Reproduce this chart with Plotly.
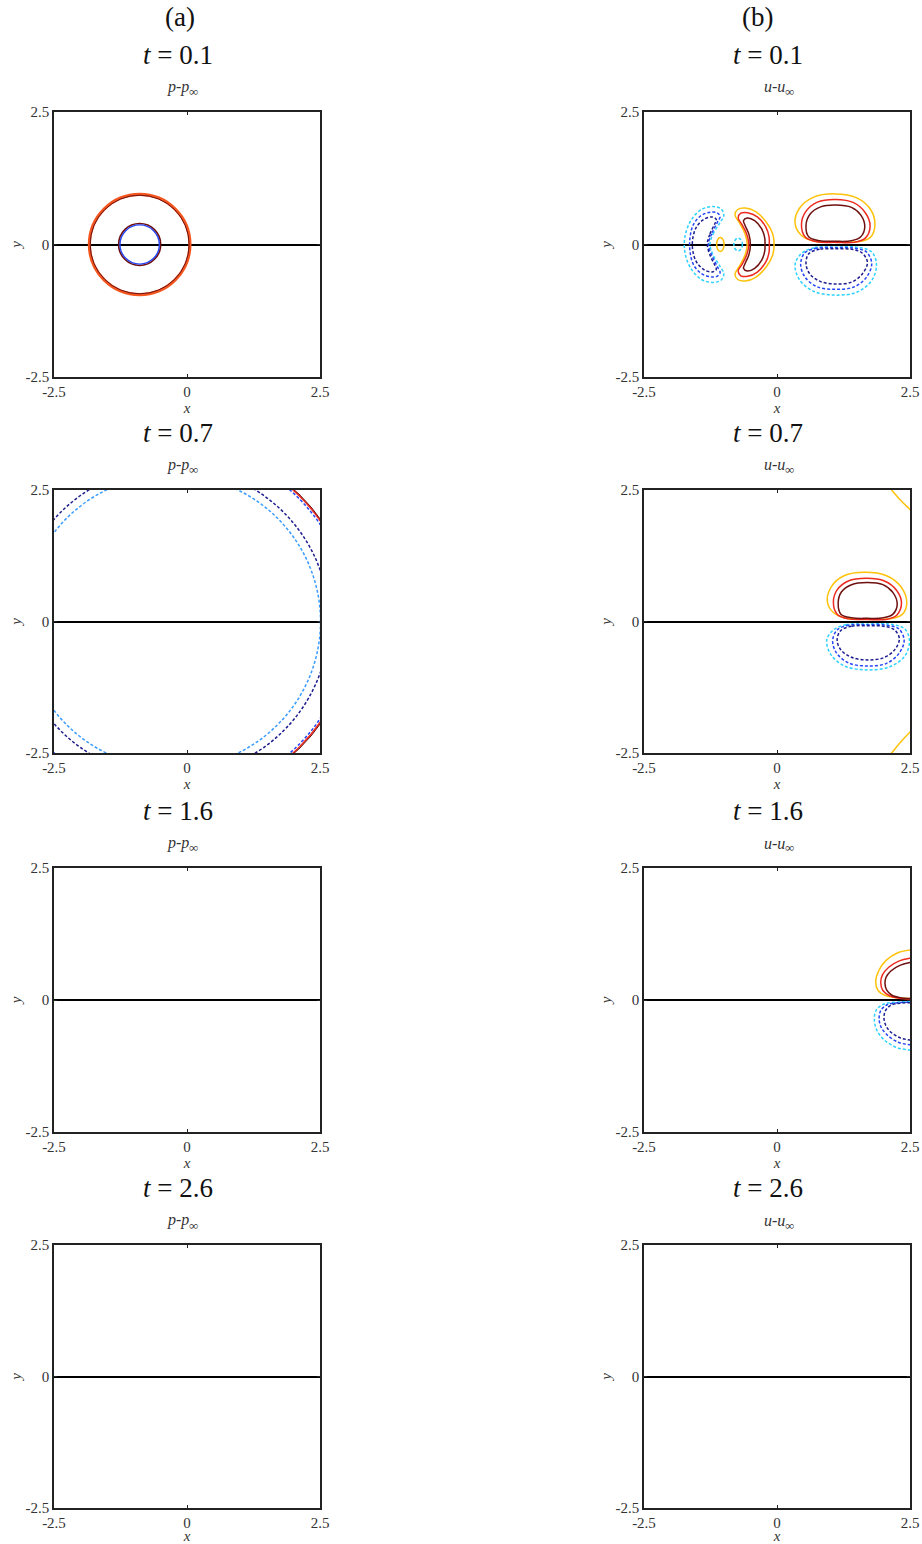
import plotly.graph_objects as go

W, H = 922, 1544

# ---- panel layout (pixels) ----
COL_LEFT = [54, 644]
COL_RIGHT = [320, 910]
ROW_TOP = [112, 490, 868, 1245]
ROW_BOTTOM = [377, 753, 1132, 1508]

times = ["0.1", "0.7", "1.6", "2.6"]
column_tags = ["(a)", "(b)"]
quantities = ["<i>p</i>-<i>p</i>", "<i>u</i>-<i>u</i>"]
tick_vals = [-2.5, 0, 2.5]
tick_text = ["-2.5", "0", "2.5"]

# ---- contour colours ----
C_YEL = "#ffc20a"
C_RED = "#ec2a1f"
C_DRED = "#6e1010"
C_ORG = "#f4561f"
C_CYAN = "#2ed2ff"
C_BLUE = "#2546f5"
C_NAVY = "#1d1d8f"
C_LBLUE = "#3a9cff"

# ---- p - p_inf contours: circular wave fronts (center x, radius) ----
p01_center = -0.89
p01_rings = [  # radius, colour, dashed, width
    (0.945, C_ORG, False, 3.2),
    (0.930, C_DRED, False, 1.0),
    (0.395, C_DRED, False, 1.6),
    (0.370, C_BLUE, False, 1.4),
]
p07_center = -0.28
p07_rings = [
    (2.79, C_LBLUE, True, 1.5),
    (2.95, C_NAVY, True, 1.5),
    (3.34, C_BLUE, True, 1.5),
    (3.38, C_RED, False, 1.6),
    (3.40, C_DRED, False, 1.0),
]

# ---- u - u_inf contours at t = 0.1 ----
u01_lobe_yel_x = [1.10, 0.70, 0.46, 0.34, 0.42, 0.68, 1.09, 1.50, 1.76, 1.84, 1.75, 1.50, 1.10]
u01_lobe_yel_y = [0.05, 0.06, 0.17, 0.40, 0.68, 0.89, 0.955, 0.88, 0.66, 0.36, 0.13, 0.05, 0.05]
u01_lobe_red_x = [1.10, 0.75, 0.53, 0.46, 0.54, 0.76, 1.10, 1.44, 1.66, 1.75, 1.66, 1.45, 1.10]
u01_lobe_red_y = [0.04, 0.05, 0.14, 0.38, 0.62, 0.80, 0.85, 0.79, 0.60, 0.35, 0.12, 0.04, 0.04]
u01_lobe_dred_x = [1.10, 0.80, 0.60, 0.545, 0.62, 0.82, 1.10, 1.40, 1.58, 1.65, 1.57, 1.40, 1.10]
u01_lobe_dred_y = [0.06, 0.07, 0.14, 0.36, 0.57, 0.71, 0.745, 0.70, 0.55, 0.33, 0.14, 0.07, 0.06]
u01_lobe_cyan_x = [1.10, 0.70, 0.45, 0.34, 0.42, 0.68, 1.09, 1.50, 1.78, 1.87, 1.78, 1.50, 1.10]
u01_lobe_cyan_y = [-0.05, -0.06, -0.18, -0.38, -0.66, -0.88, -0.955, -0.90, -0.68, -0.38, -0.14, -0.05, -0.05]
u01_lobe_blue_x = [1.10, 0.75, 0.52, 0.445, 0.53, 0.76, 1.10, 1.45, 1.68, 1.78, 1.68, 1.45, 1.10]
u01_lobe_blue_y = [-0.06, -0.07, -0.16, -0.38, -0.62, -0.80, -0.845, -0.80, -0.62, -0.36, -0.14, -0.07, -0.06]
u01_lobe_navy_x = [1.10, 0.80, 0.60, 0.545, 0.62, 0.82, 1.10, 1.40, 1.60, 1.70, 1.60, 1.40, 1.10]
u01_lobe_navy_y = [-0.08, -0.09, -0.17, -0.36, -0.56, -0.70, -0.745, -0.71, -0.56, -0.34, -0.16, -0.09, -0.08]

u01_lcres_cyan_x = [-1.26, -1.20, -1.08, -1.00, -1.05, -1.20, -1.42, -1.62, -1.73, -1.73, -1.62, -1.42, -1.20, -1.05, -1.00, -1.08, -1.20, -1.26]
u01_lcres_cyan_y = [0.00, 0.20, 0.40, 0.55, 0.67, 0.715, 0.66, 0.45, 0.15, -0.15, -0.45, -0.66, -0.715, -0.67, -0.55, -0.40, -0.20, 0.00]
u01_lcres_blue_x = [-1.29, -1.22, -1.12, -1.07, -1.13, -1.25, -1.42, -1.57, -1.635, -1.635, -1.57, -1.42, -1.25, -1.13, -1.07, -1.12, -1.22, -1.29]
u01_lcres_blue_y = [0.00, 0.22, 0.42, 0.53, 0.60, 0.61, 0.55, 0.38, 0.13, -0.13, -0.38, -0.55, -0.61, -0.60, -0.53, -0.42, -0.22, 0.00]
u01_lcres_navy_x = [-1.31, -1.26, -1.17, -1.14, -1.22, -1.38, -1.52, -1.585, -1.585, -1.52, -1.38, -1.22, -1.14, -1.17, -1.26, -1.31]
u01_lcres_navy_y = [0.00, 0.20, 0.39, 0.47, 0.52, 0.47, 0.32, 0.10, -0.10, -0.32, -0.47, -0.52, -0.47, -0.39, -0.20, 0.00]

u01_mcres_yel_x = [-0.56, -0.60, -0.70, -0.79, -0.74, -0.60, -0.40, -0.20, -0.08, -0.055, -0.08, -0.20, -0.40, -0.60, -0.74, -0.79, -0.70, -0.60, -0.56]
u01_mcres_yel_y = [0.00, 0.20, 0.40, 0.56, 0.66, 0.69, 0.62, 0.42, 0.20, 0.00, -0.20, -0.42, -0.62, -0.69, -0.66, -0.56, -0.40, -0.20, 0.00]
u01_mcres_red_x = [-0.53, -0.57, -0.66, -0.73, -0.68, -0.55, -0.37, -0.21, -0.15, -0.145, -0.15, -0.21, -0.37, -0.55, -0.68, -0.73, -0.66, -0.57, -0.53]
u01_mcres_red_y = [0.00, 0.20, 0.38, 0.50, 0.59, 0.60, 0.52, 0.33, 0.15, 0.00, -0.15, -0.33, -0.52, -0.60, -0.59, -0.50, -0.38, -0.20, 0.00]
u01_mcres_dred_x = [-0.50, -0.53, -0.60, -0.63, -0.56, -0.42, -0.29, -0.23, -0.226, -0.23, -0.29, -0.42, -0.56, -0.63, -0.60, -0.53, -0.50]
u01_mcres_dred_y = [0.00, 0.20, 0.36, 0.45, 0.50, 0.45, 0.30, 0.12, 0.00, -0.12, -0.30, -0.45, -0.50, -0.45, -0.36, -0.20, 0.00]

# small closed contours between the crescents: (center x, half width, half height)
u01_spot_yel = (-1.065, 0.07, 0.13)
u01_spot_cyan = (-0.73, 0.08, 0.12)

# ---- u - u_inf contours at t = 0.7 ----
u07_lobe_yel_x = [1.70, 1.30, 1.06, 0.946, 1.02, 1.26, 1.65, 2.06, 2.33, 2.44, 2.35, 2.10, 1.70]
u07_lobe_yel_y = [0.05, 0.06, 0.17, 0.38, 0.66, 0.87, 0.935, 0.87, 0.66, 0.36, 0.13, 0.05, 0.05]
u07_lobe_red_x = [1.70, 1.34, 1.13, 1.06, 1.13, 1.34, 1.68, 2.02, 2.25, 2.34, 2.25, 2.05, 1.70]
u07_lobe_red_y = [0.04, 0.05, 0.14, 0.37, 0.60, 0.77, 0.82, 0.77, 0.59, 0.35, 0.12, 0.04, 0.04]
u07_lobe_dred_x = [1.70, 1.40, 1.20, 1.15, 1.21, 1.40, 1.70, 1.99, 2.18, 2.26, 2.18, 2.00, 1.70]
u07_lobe_dred_y = [0.06, 0.07, 0.14, 0.35, 0.56, 0.70, 0.74, 0.70, 0.55, 0.33, 0.14, 0.07, 0.06]
u07_lobe_cyan_x = [1.70, 1.30, 1.05, 0.934, 1.02, 1.28, 1.70, 2.12, 2.40, 2.49, 2.40, 2.12, 1.70]
u07_lobe_cyan_y = [-0.05, -0.06, -0.17, -0.36, -0.64, -0.85, -0.92, -0.86, -0.66, -0.37, -0.14, -0.05, -0.05]
u07_lobe_blue_x = [1.70, 1.35, 1.13, 1.046, 1.12, 1.35, 1.70, 2.05, 2.29, 2.39, 2.29, 2.06, 1.70]
u07_lobe_blue_y = [-0.06, -0.07, -0.16, -0.37, -0.60, -0.79, -0.846, -0.80, -0.61, -0.36, -0.14, -0.07, -0.06]
u07_lobe_navy_x = [1.70, 1.40, 1.20, 1.13, 1.20, 1.40, 1.70, 2.00, 2.21, 2.30, 2.21, 2.00, 1.70]
u07_lobe_navy_y = [-0.08, -0.09, -0.17, -0.35, -0.54, -0.68, -0.73, -0.69, -0.54, -0.33, -0.16, -0.09, -0.08]
# arcs of the outer yellow level entering the corners
u07_corner_top_x = [2.10, 2.155, 2.30, 2.50, 2.60]
u07_corner_top_y = [2.56, 2.50, 2.33, 2.13, 2.03]
u07_corner_bot_x = [2.10, 2.155, 2.30, 2.50, 2.60]
u07_corner_bot_y = [-2.56, -2.50, -2.32, -2.10, -2.00]

# ---- u - u_inf contours at t = 1.6 (lobes leaving through x = 2.5) ----
u16_yel_x = [2.70, 2.50, 2.28, 2.05, 1.91, 1.855, 1.90, 2.05, 2.30, 2.50, 2.70]
u16_yel_y = [0.97, 0.947, 0.90, 0.75, 0.55, 0.35, 0.18, 0.08, 0.04, 0.03, 0.03]
u16_red_x = [2.70, 2.50, 2.30, 2.10, 1.98, 1.95, 1.99, 2.12, 2.32, 2.50, 2.70]
u16_red_y = [0.81, 0.79, 0.74, 0.62, 0.47, 0.33, 0.18, 0.08, 0.03, 0.02, 0.02]
u16_dred_x = [2.70, 2.50, 2.32, 2.14, 2.05, 2.03, 2.06, 2.16, 2.34, 2.50, 2.70]
u16_dred_y = [0.73, 0.71, 0.66, 0.55, 0.43, 0.31, 0.19, 0.09, 0.04, 0.03, 0.03]
u16_cyan_x = [2.70, 2.50, 2.25, 2.02, 1.88, 1.83, 1.86, 2.00, 2.28, 2.50, 2.70]
u16_cyan_y = [-0.97, -0.947, -0.90, -0.76, -0.58, -0.38, -0.20, -0.08, -0.04, -0.03, -0.03]
u16_blue_x = [2.70, 2.50, 2.28, 2.08, 1.96, 1.92, 1.95, 2.07, 2.30, 2.50, 2.70]
u16_blue_y = [-0.87, -0.85, -0.80, -0.67, -0.52, -0.36, -0.20, -0.09, -0.05, -0.04, -0.04]
u16_navy_x = [2.70, 2.50, 2.30, 2.13, 2.04, 2.01, 2.04, 2.14, 2.32, 2.50, 2.70]
u16_navy_y = [-0.78, -0.76, -0.71, -0.60, -0.47, -0.33, -0.20, -0.10, -0.06, -0.05, -0.05]

DASH = "3px,2px"


def px_x(px):
    return px / W


def px_y(py):
    return 1 - py / H


fig = go.Figure()
layout = dict(
    width=W, height=H, margin=dict(l=0, r=0, t=0, b=0, autoexpand=False),
    paper_bgcolor="white", plot_bgcolor="white", showlegend=False,
    font=dict(family="Liberation Serif", color="#222"),
)

axis_common = dict(
    range=[-2.5, 2.5], tickmode="array", tickvals=tick_vals, ticktext=tick_text,
    showgrid=False, showline=True, linecolor="#222", linewidth=1.6, mirror="ticks",
    ticks="inside", ticklen=3, tickwidth=1.2, tickcolor="#222",
    tickfont=dict(family="Liberation Serif", size=15, color="#333"),
    fixedrange=True, automargin=False,
)

annotations = []
shapes = []
panels = {}
# right edge of the quantity name (px) for each column
name_right = [190, 786]
k = 0
for r in range(4):
    for c in range(2):
        k += 1
        sfx = "" if k == 1 else str(k)
        xa, ya = "x" + sfx, "y" + sfx
        layout["xaxis" + sfx] = dict(
            axis_common, domain=[px_x(COL_LEFT[c]), px_x(COL_RIGHT[c])],
            anchor=ya, zeroline=False, ticklabelstandoff=0,
            title=dict(text="<i>x</i>", standoff=0,
                       font=dict(family="Liberation Serif", size=15, color="#333")),
        )
        layout["yaxis" + sfx] = dict(
            axis_common, domain=[px_y(ROW_BOTTOM[r]), px_y(ROW_TOP[r])],
            anchor=xa, zeroline=True, zerolinecolor="#000", zerolinewidth=1.6,
            ticklabelstandoff=0,
            title=dict(text="<i>y</i>", standoff=0,
                       font=dict(family="Liberation Serif", size=15, color="#333")),
        )
        panels[(r, c)] = (xa, ya)
        # row heading
        annotations.append(dict(
            text="<i>t</i> = " + times[r], x=px_x([178, 768][c]), y=px_y(ROW_TOP[r] - 57),
            xref="paper", yref="paper", showarrow=False,
            font=dict(size=27, color="#111"), xanchor="center", yanchor="middle",
        ))
        # quantity name with its infinity subscript
        annotations.append(dict(
            text=quantities[c], x=px_x(name_right[c]), y=px_y(ROW_TOP[r] - 25),
            xref="paper", yref="paper", showarrow=False, borderpad=0,
            font=dict(size=16, color="#333"), xanchor="right", yanchor="middle",
        ))
        annotations.append(dict(
            text="∞", x=px_x(name_right[c] - 2), y=px_y(ROW_TOP[r] - 20),
            xref="paper", yref="paper", showarrow=False, borderpad=0,
            font=dict(size=13, color="#333"), xanchor="left", yanchor="middle",
        ))

for c, tag in enumerate(column_tags):
    annotations.append(dict(
        text=tag, x=px_x([180, 757][c]), y=px_y(17), xref="paper", yref="paper",
        showarrow=False, font=dict(size=27, color="#111"),
        xanchor="center", yanchor="middle",
    ))


def add_curve(panel, xs, ys, color, dashed=False, width=1.5):
    xa, ya = panels[panel]
    fig.add_trace(go.Scatter(
        x=xs, y=ys, mode="lines", xaxis=xa, yaxis=ya, hoverinfo="skip",
        line=dict(color=color, width=width, shape="spline", smoothing=1.0,
                  dash=DASH if dashed else "solid"),
    ))


def add_ring(panel, cx, rx, ry, color, dashed=False, width=1.5):
    xa, ya = panels[panel]
    shapes.append(dict(
        type="circle", xref=xa, yref=ya, x0=cx - rx, x1=cx + rx, y0=-ry, y1=ry,
        line=dict(color=color, width=width, dash=DASH if dashed else "solid"),
        layer="above",
    ))


# pressure fronts
for rad, col, dsh, wid in p01_rings:
    add_ring((0, 0), p01_center, rad, rad, col, dsh, wid)
for rad, col, dsh, wid in p07_rings:
    add_ring((1, 0), p07_center, rad, rad, col, dsh, wid)

# velocity contours, t = 0.1
add_curve((0, 1), u01_lobe_yel_x, u01_lobe_yel_y, C_YEL)
add_curve((0, 1), u01_lobe_red_x, u01_lobe_red_y, C_RED)
add_curve((0, 1), u01_lobe_dred_x, u01_lobe_dred_y, C_DRED)
add_curve((0, 1), u01_lobe_cyan_x, u01_lobe_cyan_y, C_CYAN, True)
add_curve((0, 1), u01_lobe_blue_x, u01_lobe_blue_y, C_BLUE, True)
add_curve((0, 1), u01_lobe_navy_x, u01_lobe_navy_y, C_NAVY, True)
add_curve((0, 1), u01_lcres_cyan_x, u01_lcres_cyan_y, C_CYAN, True)
add_curve((0, 1), u01_lcres_blue_x, u01_lcres_blue_y, C_BLUE, True)
add_curve((0, 1), u01_lcres_navy_x, u01_lcres_navy_y, C_NAVY, True)
add_curve((0, 1), u01_mcres_yel_x, u01_mcres_yel_y, C_YEL)
add_curve((0, 1), u01_mcres_red_x, u01_mcres_red_y, C_RED)
add_curve((0, 1), u01_mcres_dred_x, u01_mcres_dred_y, C_DRED)
add_ring((0, 1), u01_spot_yel[0], u01_spot_yel[1], u01_spot_yel[2], C_YEL)
add_ring((0, 1), u01_spot_cyan[0], u01_spot_cyan[1], u01_spot_cyan[2], C_CYAN, True)

# velocity contours, t = 0.7
add_curve((1, 1), u07_lobe_yel_x, u07_lobe_yel_y, C_YEL)
add_curve((1, 1), u07_lobe_red_x, u07_lobe_red_y, C_RED)
add_curve((1, 1), u07_lobe_dred_x, u07_lobe_dred_y, C_DRED)
add_curve((1, 1), u07_lobe_cyan_x, u07_lobe_cyan_y, C_CYAN, True)
add_curve((1, 1), u07_lobe_blue_x, u07_lobe_blue_y, C_BLUE, True)
add_curve((1, 1), u07_lobe_navy_x, u07_lobe_navy_y, C_NAVY, True)
add_curve((1, 1), u07_corner_top_x, u07_corner_top_y, C_YEL)
add_curve((1, 1), u07_corner_bot_x, u07_corner_bot_y, C_YEL)

# velocity contours, t = 1.6
add_curve((2, 1), u16_yel_x, u16_yel_y, C_YEL)
add_curve((2, 1), u16_red_x, u16_red_y, C_RED)
add_curve((2, 1), u16_dred_x, u16_dred_y, C_DRED)
add_curve((2, 1), u16_cyan_x, u16_cyan_y, C_CYAN, True)
add_curve((2, 1), u16_blue_x, u16_blue_y, C_BLUE, True)
add_curve((2, 1), u16_navy_x, u16_navy_y, C_NAVY, True)

# keep empty panels bound to their axes
for r in range(4):
    for c in range(2):
        xa, ya = panels[(r, c)]
        fig.add_trace(go.Scatter(x=[None], y=[None], xaxis=xa, yaxis=ya, mode="lines",
                                 hoverinfo="skip"))

layout["annotations"] = annotations
layout["shapes"] = shapes
fig.update_layout(**layout)
fig.write_html("out.html")
